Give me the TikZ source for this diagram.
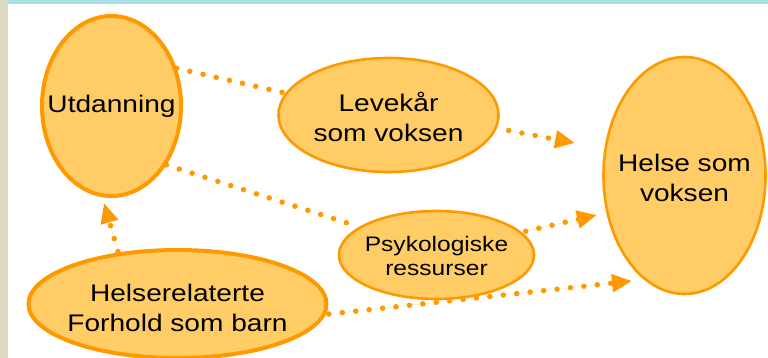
\documentclass[tikz,border=0pt]{standalone}
\usepackage{fontspec}
\setmainfont{Liberation Sans}[FakeStretch=1.17]
\usetikzlibrary{shapes.geometric,arrows.meta}
\definecolor{ofill}{HTML}{FFCC66}
\definecolor{oline}{HTML}{FF9900}
\definecolor{beige}{HTML}{DDD8C2}
\definecolor{teal}{HTML}{A6E0E3}
\begin{document}
\begin{tikzpicture}[x=1pt,y=-1pt,
  bubble/.style={ellipse,fill=ofill,draw=oline,line width=2.6pt,inner sep=0pt},
  thickbubble/.style={bubble,line width=4pt},
  txt/.style={align=center,inner sep=0pt,font=\fontsize{24}{30}\selectfont},
  smalltxt/.style={txt,font=\fontsize{21}{24}\selectfont},
  dotline/.style={draw=oline,line width=5.5pt,line cap=round,dash pattern=on 0pt off 13.5pt},
  tip/.style={-{Triangle[length=20pt,width=17pt]},fill=oline}]
\useasboundingbox (0,0) rectangle (768,358);
\fill[white] (0,0) rectangle (768,358);
\fill[beige] (0,0) rectangle (7.5,358);
\fill[teal] (7.5,0) rectangle (768,4);

\node[thickbubble,minimum width=139pt,minimum height=180pt] (utd) at (111.5,106) {};
\node[txt] (utdt) at (utd.center) {Utdanning};
\node[bubble,minimum width=220pt,minimum height=114pt] (lev) at (388.5,115) {};
\node[txt] (levt) at ([yshift=-2pt]lev.center) {Levekår\\som voksen};
\node[bubble,minimum width=195pt,minimum height=88pt] (psy) at (436.5,255) {};
\node[smalltxt] (psyt) at ([yshift=-1pt]psy.center) {Psykologiske\\ressurser};
\node[bubble,minimum width=162pt,minimum height=237pt] (hel) at (684.5,175.5) {};
\node[txt] (helt) at ([yshift=-2pt]hel.center) {Helse som\\voksen};
\node[thickbubble,minimum width=298pt,minimum height=108pt] (hrb) at (177.5,304) {};
\node[txt] (hrbt) at ([yshift=-4pt]hrb.center) {Helserelaterte\\Forhold som barn};

\coordinate (t1) at (575,143);
\coordinate (t2) at (597,215);
\coordinate (t3) at (632,281);
\coordinate (t4) at (104,203);

\draw[dotline] (utd.30) -- (lev.168);
\draw[dotline] (utd.-47) -- (psy.160);
\draw[dotline,tip,shorten <=12pt] (lev.-7) -- (t1);
\draw[dotline,tip,shorten <=4pt] (psy.15) -- (t2);
\draw[dotline,tip,shorten <=3pt] (hrb.-4) -- (t3);
\draw[dotline,tip,shorten <=1pt] (hrb.139) -- (t4);
\end{tikzpicture}
\end{document}
